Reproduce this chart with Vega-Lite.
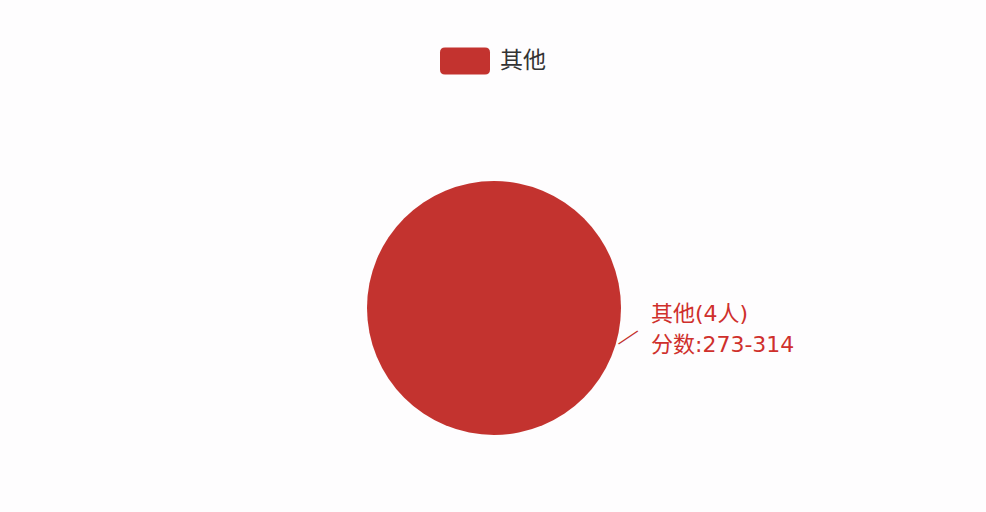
{
  "$schema": "https://vega.github.io/schema/vega-lite/v6.json",
  "description": "Pie chart of score bands: a single slice 其他.",
  "width": 986,
  "height": 512,
  "autosize": {"type": "fit", "contains": "padding"},
  "padding": {"top": 104, "left": 2, "right": 0, "bottom": 0},
  "background": "#fefdfe",
  "data": {
    "values": [
      {"name": "其他", "count": 4, "range": "273-314"}
    ]
  },
  "transform": [
    {"calculate": "[datum.name + '(' + datum.count + '人)', '分数:' + datum.range]", "as": "label"}
  ],
  "layer": [
    {
      "mark": {"type": "arc", "outerRadius": 127},
      "encoding": {
        "theta": {"field": "count", "type": "quantitative", "stack": true},
        "color": {
          "field": "name",
          "type": "nominal",
          "scale": {"domain": ["其他"], "range": ["#c3332f"]},
          "legend": {
            "orient": "none",
            "legendX": 438,
            "legendY": -68,
            "direction": "horizontal",
            "title": null,
            "symbolType": "M-0.8,-0.54L0.8,-0.54Q1,-0.54 1,-0.34L1,0.34Q1,0.54 0.8,0.54L-0.8,0.54Q-1,0.54 -1,0.34L-1,-0.34Q-1,-0.54 -0.8,-0.54Z",
            "symbolSize": 2500,
            "symbolFillColor": "#d12e28",
            "symbolStrokeWidth": 0,
            "symbolOpacity": 1,
            "labelFont": "Noto Sans CJK SC",
            "labelFontSize": 23,
            "labelColor": "#333333",
            "labelOffset": 10
          }
        }
      }
    },
    {
      "mark": {
        "type": "text",
        "align": "left",
        "baseline": "middle",
        "dx": 157,
        "dy": 6,
        "font": "DejaVu Sans, Noto Sans CJK SC",
        "fontSize": 22,
        "lineHeight": 31,
        "color": "#cf302c"
      },
      "encoding": {"text": {"field": "label"}}
    },
    {
      "mark": {
        "type": "text",
        "align": "center",
        "baseline": "middle",
        "font": "Lato",
        "fontWeight": 300,
        "fontSize": 36,
        "angle": -34,
        "theta": 1.784,
        "radius": 137,
        "color": "#c3332f"
      },
      "encoding": {"text": {"value": "—"}}
    }
  ],
  "config": {
    "view": {"stroke": null}
  }
}
